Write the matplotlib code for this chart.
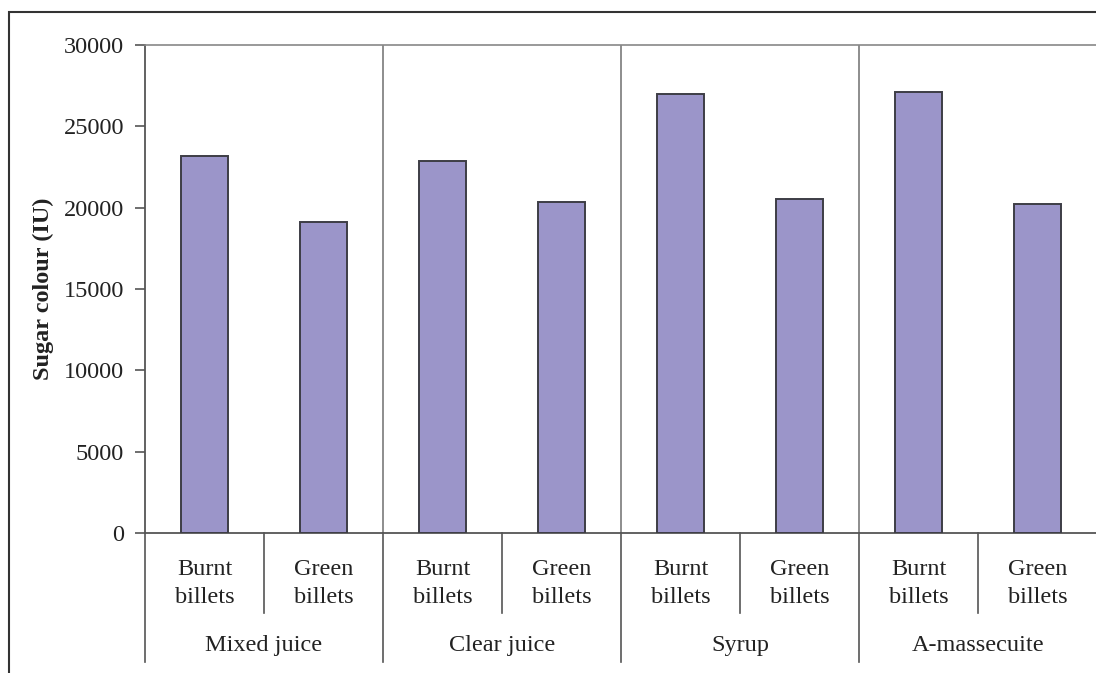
import matplotlib
matplotlib.use("Agg")
import matplotlib.pyplot as plt
from matplotlib.patches import Rectangle
import numpy as np

# Sugar colour by process stage and harvest type
stages = ["Mixed juice", "Clear juice", "Syrup", "A-massecuite"]
harvest = ["Burnt\nbillets", "Green\nbillets"]
colour_iu = [23200, 19100, 22850, 20350, 27000, 20550, 27080, 20220]
y_ticks = [0, 5000, 10000, 15000, 20000, 25000, 30000]

plt.rcParams["font.family"] = ["Liberation Serif", "DejaVu Serif"]

W, H = 1096, 673
fig = plt.figure(figsize=(W / 100, H / 100), dpi=100)
ax = fig.add_axes([145 / W, 1 - 533 / H, (1097 - 145) / W, (533 - 45) / H])

x = np.arange(len(colour_iu))
ax.bar(x, colour_iu, width=0.40, color="#9B95C9", edgecolor="#3d3d45",
       linewidth=1.4, zorder=3)

ax.set_xlim(-0.5, len(colour_iu) - 0.5)
ax.set_ylim(0, 30000)
ax.set_yticks(y_ticks)
ax.set_yticklabels([str(v) for v in y_ticks], fontsize=17.5, color="#222222")
ax.tick_params(axis="y", direction="out", length=7, width=1.2,
               color="#555555", pad=8)
ax.set_xticks([])
ax.set_ylabel("Sugar colour (IU)", fontsize=17.5, fontweight="bold",
              color="#222222", labelpad=7)

ax.spines["right"].set_visible(False)
ax.spines["top"].set_color("#888888")
ax.spines["top"].set_linewidth(1.2)
ax.spines["left"].set_color("#555555")
ax.spines["left"].set_linewidth(1.3)
ax.spines["bottom"].set_color("#555555")
ax.spines["bottom"].set_linewidth(1.3)

trans = ax.get_xaxis_transform()
n_sub = len(harvest)

# Group boundaries inside the plot area
for g in range(1, len(stages)):
    xb = g * n_sub - 0.5
    ax.plot([xb, xb], [0, 1], transform=trans, color="#7a7a7a",
            linewidth=1.2, zorder=1)

# Category axis separators below the plot
for g in range(len(stages) + 1):
    xb = g * n_sub - 0.5
    ax.plot([xb, xb], [0, -0.264], transform=trans, color="#555555",
            linewidth=1.2, clip_on=False)
for g in range(len(stages)):
    xb = g * n_sub + 0.5
    ax.plot([xb, xb], [0, -0.164], transform=trans, color="#555555",
            linewidth=1.2, clip_on=False)

# Sub-category and group labels
for i in x:
    ax.text(i, -0.103, harvest[i % n_sub], transform=trans, ha="center",
            va="center", fontsize=17.5, color="#222222", linespacing=1.45)
for g, name in enumerate(stages):
    ax.text(g * n_sub + (n_sub - 1) / 2, -0.230, name, transform=trans,
            ha="center", va="center", fontsize=17.5, color="#222222")

# Outer chart frame
fig.add_artist(Rectangle((9 / W, -0.05), 1.2, 1.05 - 12 / H,
                         transform=fig.transFigure, fill=False,
                         edgecolor="#333333", linewidth=1.5))

fig.savefig("out.png", dpi=100)
